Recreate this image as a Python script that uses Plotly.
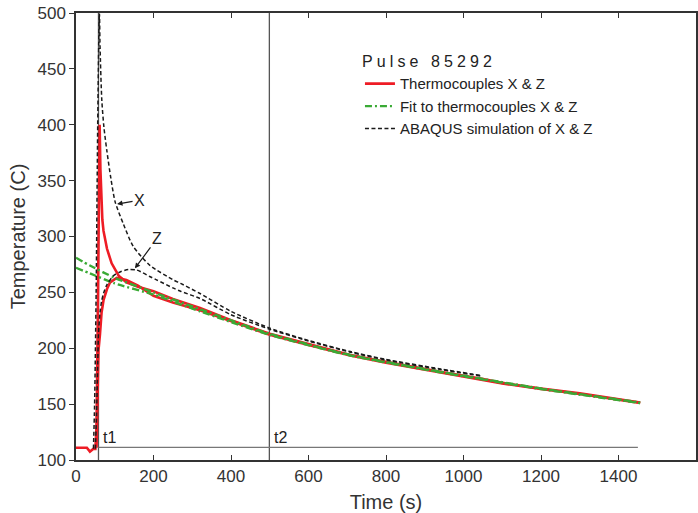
import plotly.graph_objects as go

# ---- data ----
red_x_t = [0, 28, 36, 45, 50, 53, 56, 58, 60, 61, 63, 65, 68, 71, 80, 92, 110, 130, 160, 200, 250, 320, 400, 500, 600, 708, 800, 940, 1044, 1100, 1200, 1300, 1456]
red_x_T = [111, 111, 107.5, 110, 110, 130, 220, 300, 380, 400, 360, 332, 315, 305, 289, 276, 265, 259, 255, 251, 244, 236, 225, 213, 204, 194, 188, 179, 173, 169, 164, 159.6, 151.5]

red_z_t = [53, 55, 58, 62, 66, 71, 80, 88, 105, 130, 160, 200, 250, 320, 400, 500, 600, 708, 800, 940, 1044, 1100, 1200, 1300, 1456]
red_z_T = [111, 150, 198, 213, 232, 243, 253, 259, 263, 261, 256, 247, 241, 234, 224, 212, 203, 193.5, 187, 178.5, 172.5, 168.5, 163.5, 159, 151]

green_t = [0, 36, 100, 200, 320, 500, 708, 940, 1200, 1456]
green_a_T = [281, 274, 263, 250, 235, 213, 194, 179, 164, 151.5]
green_b_T = [272, 267, 258, 248, 233, 212, 193.5, 178.5, 163.5, 151]

black_x_t = [45, 48, 52, 56, 59, 60.5, 62, 66.6, 72, 79.5, 90, 101, 122.5, 148, 191.5, 252, 270, 320, 400, 500, 600, 708, 800, 940, 1048]
black_x_T = [110, 150, 250, 400, 480, 500, 470, 422, 398, 377, 352, 331, 311, 291, 274, 261, 258, 249, 233, 218, 207, 197, 190, 181.5, 175.5]

black_z_t = [50, 53, 56, 58, 62, 66, 71, 80, 97, 115, 135, 157, 191.5, 209, 250, 270, 320, 400, 500, 600, 708, 800, 940, 1048]
black_z_T = [110, 140, 185, 213, 232, 242, 249, 257, 265, 268.5, 270.5, 270, 264, 261, 254, 251, 244.5, 230, 217, 206.5, 196.5, 189.5, 181, 175]

t_markers = [58, 499]          # t1, t2
t_labels = ["t1", "t2"]
base_t = [58, 1450]
base_T = [111.3, 111.3]

x_ticks = [0, 200, 400, 600, 800, 1000, 1200, 1400]
y_ticks = [100, 150, 200, 250, 300, 350, 400, 450, 500]

FONT = "Liberation Sans, Arial, sans-serif"
RED = "#ee1c25"
GREEN = "#3aaa35"
BLACK = "#1a1a1a"
GRAY = "#555555"
BDASH = "4px,2.5px"
GDASH = "7px,3px,2px,3px"

fig = go.Figure()

# reference lines t1, t2 and baseline
for tm in t_markers:
    fig.add_trace(go.Scatter(x=[tm, tm], y=[100, 500], mode="lines",
                             line=dict(color=GRAY, width=1.3), showlegend=False, hoverinfo="skip"))
fig.add_trace(go.Scatter(x=base_t, y=base_T, mode="lines",
                         line=dict(color="#777777", width=1.3), showlegend=False, hoverinfo="skip"))

# red thermocouples
fig.add_trace(go.Scatter(x=red_x_t, y=red_x_T, mode="lines", name="Thermocouples X & Z",
                         line=dict(color=RED, width=2.6), legendrank=1))
fig.add_trace(go.Scatter(x=red_z_t, y=red_z_T, mode="lines", showlegend=False,
                         line=dict(color=RED, width=2.6)))

# green fits (drawn over the red)
fig.add_trace(go.Scatter(x=green_t, y=green_a_T, mode="lines", name="Fit to thermocouples X & Z",
                         line=dict(color=GREEN, width=2.4, dash=GDASH, shape="spline", smoothing=0.6),
                         legendrank=2))
fig.add_trace(go.Scatter(x=green_t, y=green_b_T, mode="lines", showlegend=False,
                         line=dict(color=GREEN, width=2.4, dash=GDASH, shape="spline", smoothing=0.6)))

# black ABAQUS
fig.add_trace(go.Scatter(x=black_x_t, y=black_x_T, mode="lines", name="ABAQUS simulation of X & Z",
                         line=dict(color=BLACK, width=1.5, dash=BDASH, shape="spline", smoothing=0.7),
                         legendrank=3))
fig.add_trace(go.Scatter(x=black_z_t, y=black_z_T, mode="lines", showlegend=False,
                         line=dict(color=BLACK, width=1.5, dash=BDASH, shape="spline", smoothing=0.7)))

annotations = []
for tm, lab in zip(t_markers, t_labels):
    annotations.append(dict(x=tm, y=120.5, text=lab, showarrow=False, xanchor="left", xshift=3,
                            font=dict(family=FONT, size=16, color="#222")))
annotations.append(dict(x=106, y=329, ax=164, ay=332.5, axref="x", ayref="y", text="X",
                        showarrow=True, arrowhead=2, arrowsize=0.9, arrowwidth=1.2, arrowcolor=BLACK,
                        font=dict(family=FONT, size=16, color="#222")))
annotations.append(dict(x=152, y=271.5, ax=209, ay=298, axref="x", ayref="y", text="Z",
                        showarrow=True, arrowhead=2, arrowsize=0.9, arrowwidth=1.2, arrowcolor=BLACK,
                        font=dict(family=FONT, size=16, color="#222")))

fig.update_layout(
    width=698, height=513,
    margin=dict(l=76, r=2, t=13, b=53, autoexpand=False),
    paper_bgcolor="white", plot_bgcolor="white",
    font=dict(family=FONT, size=17, color="#333"),
    showlegend=True,
    legend=dict(
        x=0.458, y=0.925, xanchor="left", yanchor="top",
        bgcolor="rgba(0,0,0,0)", borderwidth=0,
        font=dict(family=FONT, size=15, color="#222"),
        title=dict(text='<span style="letter-spacing:4.1px">Pulse 85292</span>',
                   font=dict(family=FONT, size=16, color="#222")),
        tracegroupgap=0,
    ),
    annotations=annotations,
    xaxis=dict(range=[0, 1600], tickvals=x_ticks, ticks="inside", ticklen=5, tickwidth=1.2,
               tickcolor="#333", showline=True, linecolor="#333", linewidth=1.5, mirror="allticks",
               showgrid=False, zeroline=False, title=dict(text="Time (s)", standoff=11),
               tickfont=dict(size=17), automargin=False),
    yaxis=dict(range=[100, 500], tickvals=y_ticks, ticks="outside", ticklen=5, tickwidth=1.2,
               tickcolor="#333", showline=True, linecolor="#333", linewidth=1.5, mirror=True,
               showgrid=False, zeroline=False, title=dict(text="Temperature (C)", standoff=6),
               tickfont=dict(size=17), automargin=False),
    yaxis2=dict(range=[100, 500], tickvals=y_ticks, ticks="inside", ticklen=5, tickwidth=1.2,
                tickcolor="#333", overlaying="y", side="right", anchor="x", showticklabels=False,
                showgrid=False, zeroline=False, showline=False),
)

fig.write_html("out.html")
